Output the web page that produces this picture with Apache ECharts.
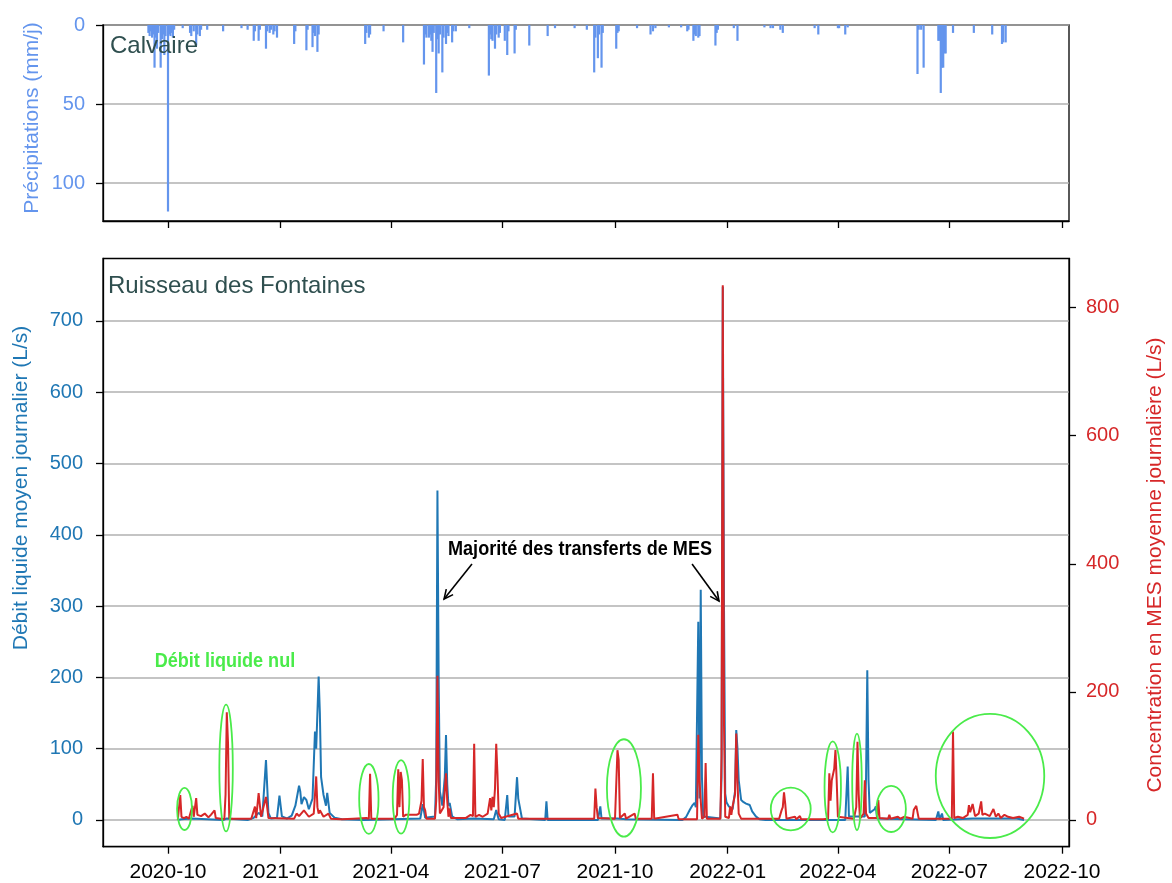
<!DOCTYPE html>
<html><head><meta charset="utf-8">
<script src="https://cdn.jsdelivr.net/npm/echarts@6/dist/echarts.min.js"></script>
<style>html,body{margin:0;padding:0;background:#fff}#c{width:1172px;height:883px}</style>
</head><body><div id="c"></div>
<script>
// ---------------- DATA ----------------
const xTickLabels = ['2020-10','2021-01','2021-04','2021-07','2021-10','2022-01','2022-04','2022-07','2022-10'];
const precipTicks = [0, 50, 100];
const flowTicks = [0, 100, 200, 300, 400, 500, 600, 700];
const mesTicks = [0, 200, 400, 600, 800];

const precipDates = ['2020-09-15','2020-09-16','2020-09-17','2020-09-18','2020-09-19','2020-09-20','2020-09-21','2020-09-22','2020-09-23','2020-09-25','2020-09-26','2020-09-27','2020-09-28','2020-09-29','2020-10-01','2020-10-02','2020-10-03','2020-10-04','2020-10-05','2020-10-06','2020-10-13','2020-10-19','2020-10-20','2020-10-22','2020-10-24','2020-10-25','2020-10-27','2020-10-28','2020-11-02','2020-11-15','2020-11-30','2020-12-05','2020-12-10','2020-12-11','2020-12-14','2020-12-15','2020-12-20','2020-12-21','2020-12-23','2020-12-24','2020-12-26','2020-12-27','2020-12-29','2021-01-12','2021-01-13','2021-01-22','2021-01-23','2021-01-27','2021-01-28','2021-01-29','2021-01-31','2021-02-01','2021-03-11','2021-03-12','2021-03-14','2021-03-15','2021-03-26','2021-04-11','2021-04-28','2021-04-29','2021-04-30','2021-05-02','2021-05-03','2021-05-04','2021-05-05','2021-05-06','2021-05-08','2021-05-09','2021-05-10','2021-05-11','2021-05-13','2021-05-14','2021-05-16','2021-05-17','2021-05-18','2021-05-21','2021-05-22','2021-05-24','2021-06-04','2021-06-20','2021-06-21','2021-06-22','2021-06-23','2021-06-25','2021-06-26','2021-06-28','2021-06-29','2021-07-03','2021-07-05','2021-07-06','2021-07-11','2021-07-12','2021-07-23','2021-08-07','2021-08-13','2021-08-29','2021-09-08','2021-09-14','2021-09-15','2021-09-17','2021-09-18','2021-09-20','2021-09-21','2021-10-02','2021-10-03','2021-10-04','2021-10-19','2021-10-30','2021-11-01','2021-11-03','2021-11-14','2021-11-24','2021-11-29','2021-11-30','2021-12-04','2021-12-05','2021-12-06','2021-12-08','2021-12-09','2021-12-22','2021-12-23','2021-12-24','2022-01-06','2022-01-09','2022-01-31','2022-02-05','2022-02-07','2022-02-13','2022-02-15','2022-03-13','2022-03-16','2022-04-01','2022-04-02','2022-04-07','2022-04-09','2022-06-05','2022-06-06','2022-06-08','2022-06-10','2022-06-22','2022-06-23','2022-06-24','2022-06-25','2022-06-26','2022-06-27','2022-06-28','2022-07-04','2022-07-21','2022-08-05','2022-08-13','2022-08-14','2022-08-16'];
const precipValues = [5,7,4,8,6,27,8,15,5,27,9,6,19,7,118,6,7,5,8,3,2,5,7,4,13,6,7,3,3,4,2,3,10,4,10,3,15,4,5,3,6,4,8,12,4,16,3,14,5,7,17,6,12,5,8,6,4,11,25,6,8,8,6,10,17,5,43,9,18,6,30,8,12,5,7,11,4,4,2,32,6,9,10,15,6,8,5,10,19,4,18,3,13,7,2,2,3,30,8,21,6,27,5,15,5,4,2,6,4,2,1.5,1.5,4,3,10,6,7,8,7,13,5,3,2,10,1.5,2,2,3,5,2,6,2,2,6,1.5,31,3,3,27,10,10,43,27,27,18,18,5,5,6,12,11,11];

const flowDates = ['2020-10-09','2020-10-12','2020-10-20','2020-11-15','2020-11-18','2020-12-05','2020-12-10','2020-12-14','2020-12-17','2020-12-20','2020-12-22','2020-12-24','2020-12-29','2020-12-31','2021-01-02','2021-01-06','2021-01-10','2021-01-13','2021-01-16','2021-01-17','2021-01-18','2021-01-20','2021-01-22','2021-01-24','2021-01-27','2021-01-29','2021-01-30','2021-02-01','2021-02-02','2021-02-03','2021-02-05','2021-02-07','2021-02-08','2021-02-10','2021-02-14','2021-02-20','2021-03-10','2021-04-25','2021-04-27','2021-04-29','2021-05-07','2021-05-08','2021-05-09','2021-05-10','2021-05-11','2021-05-13','2021-05-15','2021-05-16','2021-05-17','2021-05-18','2021-05-19','2021-05-21','2021-05-25','2021-06-08','2021-06-24','2021-06-26','2021-06-28','2021-07-03','2021-07-05','2021-07-06','2021-07-11','2021-07-13','2021-07-14','2021-07-15','2021-07-17','2021-08-05','2021-08-06','2021-08-07','2021-09-17','2021-09-19','2021-09-20','2021-10-03','2021-10-10','2021-11-25','2021-11-28','2021-12-01','2021-12-03','2021-12-05','2021-12-06','2021-12-07','2021-12-08','2021-12-09','2021-12-10','2021-12-11','2021-12-12','2021-12-26','2021-12-27','2021-12-28','2021-12-29','2021-12-30','2021-12-31','2022-01-02','2022-01-05','2022-01-07','2022-01-08','2022-01-09','2022-01-10','2022-01-12','2022-01-14','2022-01-16','2022-01-19','2022-01-21','2022-01-24','2022-01-27','2022-02-01','2022-04-07','2022-04-09','2022-04-10','2022-04-23','2022-04-24','2022-04-25','2022-04-26','2022-04-27','2022-05-01','2022-05-02','2022-05-03','2022-06-20','2022-06-22','2022-06-23','2022-06-25','2022-06-26','2022-07-20','2022-08-05','2022-08-25','2022-08-31'];
const flowValues = [0,1,2,0,2,0,3,10,5,84,10,2,3,34,5,2,6,20,48,40,22,32,28,15,30,124,100,201,150,60,35,20,38,10,3,1,0,2,22,3,5,60,462,200,40,20,60,119,50,20,24,5,1,2,1,14,1,0,35,5,5,60,30,28,2,0,26,0,0,19,2,2,1,0,4,14,20,24,18,20,278,30,323,60,5,2,60,748,300,37,25,19,15,40,126,100,56,28,25,23,21,12,5,1,0,0,75,5,5,60,210,56,10,15,19,2,0,12,1,9,0,2,2,2,0];

const mesDates = ['2020-10-09','2020-10-11','2020-10-12','2020-10-14','2020-10-16','2020-10-18','2020-10-21','2020-10-22','2020-10-24','2020-10-25','2020-10-28','2020-10-31','2020-11-03','2020-11-05','2020-11-08','2020-11-09','2020-11-16','2020-11-17','2020-11-18','2020-11-19','2020-11-20','2020-12-08','2020-12-11','2020-12-12','2020-12-14','2020-12-15','2020-12-16','2020-12-17','2020-12-20','2020-12-22','2021-01-12','2021-01-14','2021-01-16','2021-01-20','2021-01-24','2021-01-28','2021-01-30','2021-01-31','2021-02-01','2021-02-02','2021-02-05','2021-02-09','2021-02-11','2021-02-20','2021-03-01','2021-03-12','2021-03-14','2021-03-15','2021-03-16','2021-04-04','2021-04-06','2021-04-07','2021-04-08','2021-04-09','2021-04-10','2021-04-11','2021-04-13','2021-04-22','2021-04-24','2021-04-26','2021-04-27','2021-04-28','2021-04-29','2021-04-30','2021-05-07','2021-05-08','2021-05-09','2021-05-10','2021-05-11','2021-05-14','2021-05-16','2021-05-17','2021-05-18','2021-05-19','2021-05-20','2021-06-01','2021-06-05','2021-06-07','2021-06-08','2021-06-09','2021-06-12','2021-06-15','2021-06-19','2021-06-21','2021-06-22','2021-06-23','2021-06-24','2021-06-25','2021-06-26','2021-06-27','2021-06-28','2021-06-30','2021-07-13','2021-07-14','2021-09-14','2021-09-15','2021-09-16','2021-09-17','2021-10-01','2021-10-03','2021-10-04','2021-10-05','2021-10-09','2021-10-10','2021-10-17','2021-10-18','2021-10-31','2021-11-01','2021-11-02','2021-11-21','2021-11-22','2021-12-07','2021-12-08','2021-12-09','2021-12-10','2021-12-11','2021-12-13','2021-12-14','2021-12-15','2021-12-26','2021-12-27','2021-12-28','2021-12-29','2021-12-30','2022-01-02','2022-01-03','2022-01-04','2022-01-05','2022-01-07','2022-01-08','2022-01-09','2022-01-10','2022-01-12','2022-02-12','2022-02-14','2022-02-15','2022-02-16','2022-02-17','2022-02-18','2022-02-25','2022-02-26','2022-03-01','2022-03-02','2022-03-20','2022-03-24','2022-03-25','2022-03-26','2022-03-27','2022-03-29','2022-03-30','2022-03-31','2022-04-01','2022-04-14','2022-04-16','2022-04-17','2022-04-18','2022-04-19','2022-04-22','2022-04-23','2022-04-24','2022-04-26','2022-05-03','2022-05-04','2022-05-05','2022-05-12','2022-05-13','2022-05-14','2022-05-20','2022-05-22','2022-05-25','2022-05-26','2022-06-01','2022-06-02','2022-06-04','2022-06-05','2022-06-06','2022-07-03','2022-07-04','2022-07-05','2022-07-08','2022-07-12','2022-07-16','2022-07-17','2022-07-18','2022-07-20','2022-07-22','2022-07-25','2022-07-27','2022-07-28','2022-07-30','2022-08-03','2022-08-06','2022-08-08','2022-08-10','2022-08-12','2022-08-15','2022-08-18','2022-08-22','2022-08-27','2022-08-31'];
const mesValues = [0,39,5,3,5,2,22,5,34,8,6,10,4,8,15,3,1,40,168,120,2,2,21,3,42,44,5,3,36,3,2,10,6,15,5,10,68,20,10,15,5,10,2,1,2,3,2,72,2,2,8,79,20,75,62,5,8,8,10,30,95,20,15,2,2,30,225,60,10,20,73,30,5,18,3,3,8,6,119,5,8,5,10,34,15,36,20,49,119,73,10,3,10,2,2,49,20,3,2,109,94,3,10,2,10,2,2,73,2,8,1,1,133,62,30,2,5,89,2,2,100,835,150,5,3,21,8,21,40,135,60,10,2,2,15,20,43,25,2,5,1,6,1,1,2,73,30,62,80,109,62,5,2,20,122,40,2,10,62,10,3,3,31,3,2,8,2,5,2,5,2,2,16,22,20,2,2,138,3,5,3,8,23,12,25,6,10,29,8,10,6,17,5,10,3,8,5,3,5,2];

// ---------------- HELPERS ----------------
function ts(s){
  const p = s.split(' ');
  const d = p[0].split('-').map(Number);
  const h = p[1] ? Number(p[1]) : 0;
  return new Date(d[0], d[1]-1, d[2] || 1, h).getTime();
}
const xTicks = xTickLabels.map(s => ts(s + '-01'));
const X_MIN = ts('2020-08-08 22');
const X_MAX = ts('2022-10-06 17');
const FONT = "'Liberation Sans', Arial, Helvetica, sans-serif";
const C_PRECIP = '#6495ED', C_FLOW = '#1f77b4', C_MES = '#d62728', C_TITLE = '#2F4F4F', C_GREEN = '#4aeb4a';

function pad(n){ return n < 10 ? '0' + n : '' + n; }
function fmtDate(v){ const d = new Date(v); return d.getFullYear() + '-' + pad(d.getMonth()+1); }

const axisLineStyle = { show: true, onZero: false, lineStyle: { color: '#000', width: 1.3 } };
const tickStyle = { color: '#000', width: 1.3 };

const chart = echarts.init(document.getElementById('c'), null, { renderer: 'canvas' });

const option = {
  animation: false,
  backgroundColor: '#fff',
  grid: [
    { left: 103, right: 103, top: 25, height: 196, show: true, borderColor: '#000', borderWidth: 1.3, backgroundColor: 'transparent' },
    { left: 103, right: 103, top: 258.5, height: 588.2, show: true, borderColor: '#000', borderWidth: 1.3, backgroundColor: 'transparent' }
  ],
  xAxis: [
    { type: 'value', gridIndex: 0, min: X_MIN, max: X_MAX,
      axisLine: axisLineStyle,
      axisTick: { show: true, customValues: xTicks, length: 7, lineStyle: tickStyle },
      axisLabel: { show: false },
      splitLine: { show: false } },
    { type: 'value', gridIndex: 1, min: X_MIN, max: X_MAX,
      axisLine: axisLineStyle,
      axisTick: { show: true, customValues: xTicks, length: 7, lineStyle: tickStyle },
      axisLabel: { show: true, customValues: xTicks, formatter: fmtDate, fontSize: 21, color: '#000', margin: 15, fontFamily: FONT, hideOverlap: false },
      splitLine: { show: false } }
  ],
  yAxis: [
    { type: 'value', gridIndex: 0, inverse: true, min: 0, max: 124,
      axisLine: axisLineStyle,
      axisTick: { show: true, customValues: precipTicks, length: 7, lineStyle: tickStyle },
      axisLabel: { customValues: precipTicks, color: C_PRECIP, fontSize: 20, margin: 18, fontFamily: FONT },
      splitLine: { show: true, lineStyle: { color: '#b0b0b0', width: 1.6 } } },
    { type: 'value', gridIndex: 1, min: -37.5, max: 787.5,
      axisLine: axisLineStyle,
      axisTick: { show: true, customValues: flowTicks, length: 7, lineStyle: tickStyle },
      axisLabel: { customValues: flowTicks, color: C_FLOW, fontSize: 20, margin: 20, fontFamily: FONT },
      splitLine: { show: true, lineStyle: { color: '#b0b0b0', width: 1.6 } } },
    { type: 'value', gridIndex: 1, position: 'right', min: -41.75, max: 876.75,
      axisLine: axisLineStyle,
      axisTick: { show: true, customValues: mesTicks, length: 7, lineStyle: tickStyle },
      axisLabel: { customValues: mesTicks, color: C_MES, fontSize: 20, margin: 17, fontFamily: FONT },
      splitLine: { show: false } }
  ],
  series: [
    { type: 'bar', name: 'Précipitations', xAxisIndex: 0, yAxisIndex: 0, barWidth: 2.2,
      itemStyle: { color: C_PRECIP },
      data: precipDates.map((d, i) => [ts(d), precipValues[i]]) },
    { type: 'line', name: 'Débit', xAxisIndex: 1, yAxisIndex: 1, showSymbol: false, symbol: 'none',
      lineStyle: { color: C_FLOW, width: 2 }, itemStyle: { color: C_FLOW }, z: 2,
      data: flowDates.map((d, i) => [ts(d), flowValues[i]]) },
    { type: 'line', name: 'MES', xAxisIndex: 1, yAxisIndex: 2, showSymbol: false, symbol: 'none',
      lineStyle: { color: C_MES, width: 2 }, itemStyle: { color: C_MES }, z: 3,
      data: mesDates.map((d, i) => [ts(d), mesValues[i]]) }
  ]
};
chart.setOption(option);

// ---------------- ANNOTATIONS (anchored in data space of the lower panel) ----------------
const ellipses = [
  ['2020-10-14 12', 15.4, 6.1, 29.5],
  ['2020-11-17 10', 72.9, 5.5, 89],
  ['2021-03-14 00', 29.5, 7.9, 49],
  ['2021-04-09 07', 32.3, 6.8, 51.5],
  ['2021-10-08 07', 44.9, 13.9, 68.3],
  ['2022-02-21 12', 15.4, 16.3, 29.9],
  ['2022-03-27 19', 46.3, 6.7, 63.8],
  ['2022-04-16 14', 53.3, 3.9, 67.7],
  ['2022-05-14 12', 15.4, 12.0, 32.3],
  ['2022-08-03 05', 61.7, 44.3, 87]
];
const arrows = [
  [['2021-06-06 05', 359], ['2021-05-14 10', 310]],
  [['2021-12-02 22', 359], ['2021-12-24 22', 307]]
];
const DAY = 86400000;
function px(t, v){ return chart.convertToPixel({ xAxisIndex: 1, yAxisIndex: 1 }, [t, v]); }

const graphics = [];
ellipses.forEach(e => {
  const t = ts(e[0]);
  const c = px(t, e[1]);
  const a = px(t + e[2]*DAY, e[1] + e[3]);
  graphics.push({ type: 'ellipse', z: 100, silent: true,
    shape: { cx: c[0], cy: c[1], rx: Math.abs(a[0]-c[0]), ry: Math.abs(c[1]-a[1]) },
    style: { fill: 'none', stroke: C_GREEN, lineWidth: 1.8 } });
});
arrows.forEach(ar => {
  const s = px(ts(ar[0][0]), ar[0][1]);
  const e = px(ts(ar[1][0]), ar[1][1]);
  graphics.push({ type: 'line', z: 100, silent: true,
    shape: { x1: s[0], y1: s[1], x2: e[0], y2: e[1] },
    style: { stroke: '#000', lineWidth: 1.6 } });
  const ang = Math.atan2(e[1]-s[1], e[0]-s[0]);
  const L = 10, W = 0.45;
  const p1 = [e[0] - L*Math.cos(ang - W), e[1] - L*Math.sin(ang - W)];
  const p2 = [e[0] - L*Math.cos(ang + W), e[1] - L*Math.sin(ang + W)];
  graphics.push({ type: 'polyline', z: 100, silent: true,
    shape: { points: [p1, e, p2] },
    style: { stroke: '#000', lineWidth: 1.6, fill: 'none' } });
});
const tMaj = px(ts('2021-09-02 10'), 380);
const tNul = px(ts('2020-11-16 12'), 223);

graphics.push(
  { type: 'text', z: 100, silent: true, x: tMaj[0], y: tMaj[1], scaleX: 0.86,
    style: { text: 'Majorité des transferts de MES', font: "bold 21px " + FONT, fill: '#000', align: 'center', verticalAlign: 'middle' } },
  { type: 'text', z: 100, silent: true, x: tNul[0], y: tNul[1], scaleX: 0.86,
    style: { text: 'Débit liquide nul', font: "bold 21px " + FONT, fill: C_GREEN, align: 'center', verticalAlign: 'middle' } },
  { type: 'text', z: 100, silent: true, x: 110, y: 46,
    style: { text: 'Calvaire', font: "24px " + FONT, fill: C_TITLE, align: 'left', verticalAlign: 'middle' } },
  { type: 'text', z: 100, silent: true, x: 108, y: 286,
    style: { text: 'Ruisseau des Fontaines', font: "24px " + FONT, fill: C_TITLE, align: 'left', verticalAlign: 'middle' } },
  { type: 'text', z: 100, silent: true, x: 32, y: 118, rotation: Math.PI/2,
    style: { text: 'Précipitations (mm/j)', font: "21px " + FONT, fill: C_PRECIP, align: 'center', verticalAlign: 'middle' } },
  { type: 'text', z: 100, silent: true, x: 21, y: 488, rotation: Math.PI/2,
    style: { text: 'Débit liquide moyen journalier (L/s)', font: "21px " + FONT, fill: C_FLOW, align: 'center', verticalAlign: 'middle' } },
  { type: 'text', z: 100, silent: true, x: 1155, y: 565, rotation: Math.PI/2,
    style: { text: 'Concentration en MES moyenne journalière (L/s)', font: "21px " + FONT, fill: C_MES, align: 'center', verticalAlign: 'middle' } }
);
chart.setOption({ graphic: graphics });
</script>
</body></html>
